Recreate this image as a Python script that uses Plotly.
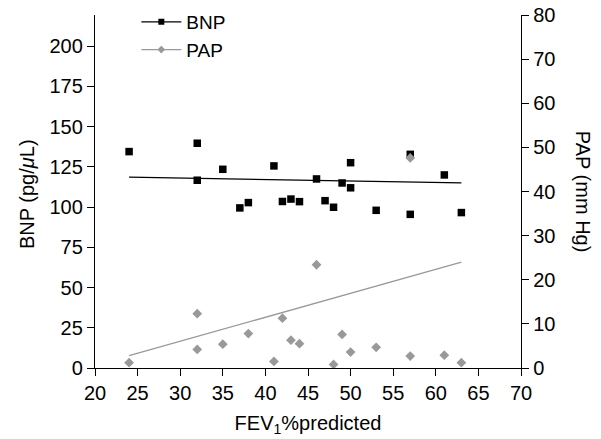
import plotly.graph_objects as go

# BNP (left axis, pg/uL)
bnp_x = [24, 32, 32, 35, 37, 38, 41, 42, 43, 44, 46, 47, 48, 49, 50, 50, 53, 57, 57, 61, 63]
bnp_y = [134.5, 139.7, 116.7, 123.5, 99.5, 102.8, 125.6, 103.5, 105, 103.4, 117.5, 104,
         99.9, 115, 127.6, 112, 98, 132.8, 95.5, 120, 96.6]
# PAP (right axis, mm Hg)
pap_x = [24, 32, 32, 35, 38, 41, 42, 43, 44, 46, 48, 49, 50, 53, 57, 57, 61, 63]
pap_y = [1.2, 12.3, 4.2, 5.4, 7.8, 1.5, 11.3, 6.3, 5.5, 23.4, 0.8, 7.6, 3.6, 4.7, 47.6, 2.7, 2.9, 1.2]
# Trend lines (endpoints)
bnp_fit_x = [24, 63]
bnp_fit_y = [118.6, 115.0]
pap_fit_x = [24, 63]
pap_fit_y = [2.8, 24.0]

x_ticks = list(range(20, 71, 5))
left_ticks = list(range(0, 201, 25))
right_ticks = list(range(0, 81, 10))

FONT = "Arial, 'Liberation Sans', sans-serif"
GRAY = "#999999"
FS = 20

fig = go.Figure()
fig.add_trace(go.Scatter(x=pap_fit_x, y=pap_fit_y, mode="lines", yaxis="y2",
                         line=dict(color=GRAY, width=1.3), showlegend=False))
fig.add_trace(go.Scatter(x=pap_x, y=pap_y, mode="markers", yaxis="y2",
                         marker=dict(symbol="diamond", size=7.5, color=GRAY), showlegend=False))
fig.add_trace(go.Scatter(x=bnp_fit_x, y=bnp_fit_y, mode="lines",
                         line=dict(color="black", width=1.3), showlegend=False))
fig.add_trace(go.Scatter(x=bnp_x, y=bnp_y, mode="markers",
                         marker=dict(symbol="square", size=7.5, color="black"), showlegend=False))
# legend entries
fig.add_trace(go.Scatter(x=[None], y=[None], mode="lines+markers", name="BNP",
                         line=dict(color="black", width=1.3),
                         marker=dict(symbol="square", size=6, color="black")))
fig.add_trace(go.Scatter(x=[None], y=[None], mode="lines+markers", name="PAP",
                         line=dict(color=GRAY, width=1.3),
                         marker=dict(symbol="diamond", size=6, color=GRAY)))

axis_common = dict(showgrid=False, zeroline=False, showline=True, linecolor="black",
                   linewidth=1.3, ticks="outside", ticklen=7, tickcolor="black", tickwidth=1.3,
                   ticklabeloverflow="allow",
                   tickfont=dict(size=FS, color="black", family=FONT))

# page body has an 8px margin, so the figure is 8px smaller and margins shifted
fig.update_layout(
    width=593, height=431,
    margin=dict(l=87, r=80, t=7, b=71, autoexpand=False),
    paper_bgcolor="white", plot_bgcolor="white",
    font=dict(family=FONT, size=FS, color="black"),
    xaxis=dict(range=[20, 70], tickvals=x_ticks, **axis_common,
               title=dict(text="FEV<sub>1</sub>%predicted", font=dict(size=FS), standoff=12)),
    yaxis=dict(range=[0, 219.4], tickvals=left_ticks, **axis_common),
    yaxis2=dict(range=[0, 80], tickvals=right_ticks, overlaying="y", side="right",
                **axis_common),
    legend=dict(x=0.097, y=1.034, xanchor="left", yanchor="top", bgcolor="rgba(0,0,0,0)",
                font=dict(size=19), tracegroupgap=0, itemwidth=40),
    annotations=[
        dict(text="BNP (pg/<i>μ</i>L)", xref="paper", yref="paper", x=-0.1596, y=0.493,
             xanchor="center", yanchor="middle", textangle=-90, showarrow=False,
             font=dict(size=FS)),
        dict(text="PAP (mm Hg)", xref="paper", yref="paper", x=1.1455, y=0.499,
             xanchor="center", yanchor="middle", textangle=90, showarrow=False,
             font=dict(size=FS)),
    ],
)

fig.write_html("out.html")
